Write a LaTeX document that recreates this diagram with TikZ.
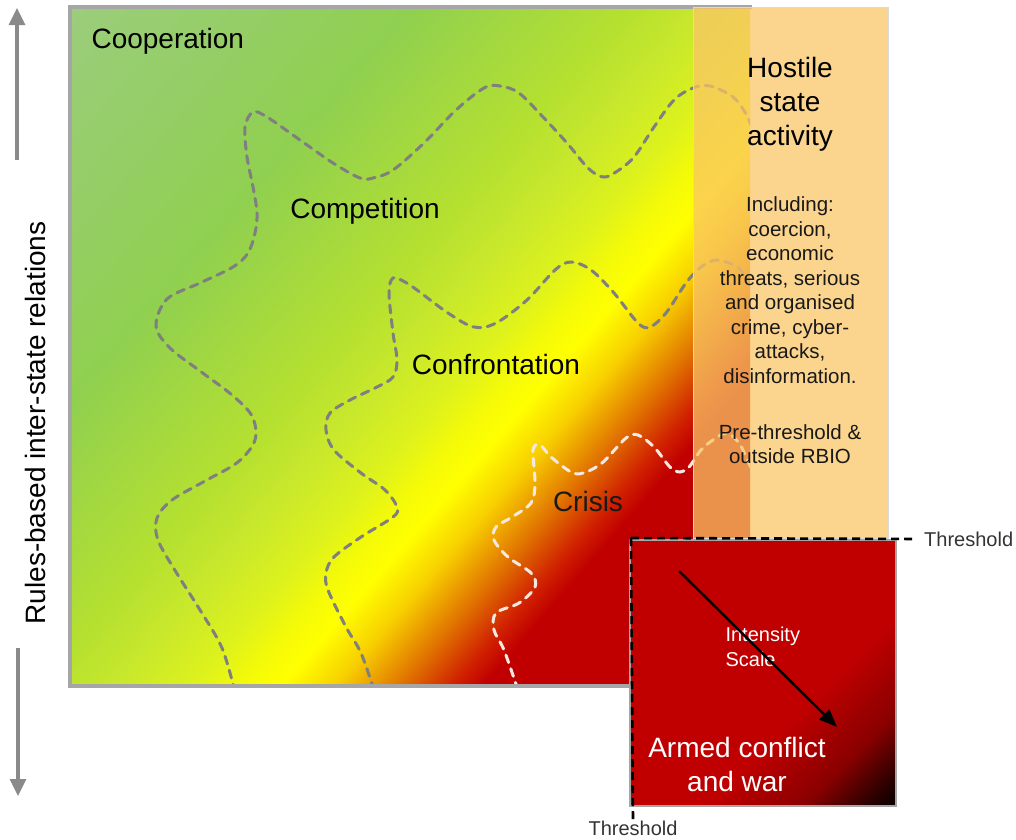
\documentclass[tikz,border=0pt]{standalone}
\usepackage{fontspec}
\setmainfont{Liberation Sans}
\usetikzlibrary{arrows.meta}
\usetikzlibrary{positioning}

\definecolor{frame}{HTML}{A6A6A6}
\definecolor{panel}{HTML}{FAC566}
\definecolor{zonegray}{HTML}{7F7F7F}
\definecolor{crisisline}{HTML}{F6E8E0}
\definecolor{axisgray}{HTML}{8A8A8A}
\definecolor{warred}{HTML}{C00000}
\definecolor{g1}{HTML}{9CCD7C}
\definecolor{g2}{HTML}{94CE64}
\definecolor{g3}{HTML}{90D050}
\definecolor{g4}{HTML}{B4E030}
\definecolor{g5}{HTML}{C8E82C}
\definecolor{g6}{HTML}{DEF21C}
\definecolor{g7}{HTML}{F4FA08}
\definecolor{g8}{HTML}{FFFF00}
\definecolor{g9}{HTML}{F8D000}
\definecolor{g10}{HTML}{E07000}
\definecolor{g11}{HTML}{D02000}
\definecolor{w1}{HTML}{8A0000}
\definecolor{w2}{HTML}{3A0000}
\definecolor{w3}{HTML}{000000}

\pgfdeclarehorizontalshading{relations}{100bp}{color(0bp)=(g1); color(25bp)=(g1); color(32.9bp)=(g2); color(38.5bp)=(g3); color(47bp)=(g4); color(50bp)=(g5); color(53.1bp)=(g6); color(54.9bp)=(g7); color(56.5bp)=(g8); color(58.6bp)=(g9); color(61.2bp)=(g10); color(63.2bp)=(g11); color(64.4bp)=(warred); color(100bp)=(warred)}
\pgfdeclarehorizontalshading{escalation}{100bp}{color(0bp)=(warred); color(57bp)=(warred); color(66bp)=(w1); color(71bp)=(w2); color(75bp)=(w3); color(100bp)=(w3)}

\begin{document}
\begin{tikzpicture}[x=1pt, y=-1pt,
    zone/.style={line width=3pt, dash pattern=on 8pt off 6.5pt, line cap=round},
    thresh/.style={line width=2.6pt, dash pattern=on 8pt off 5pt, black},
    axisarrow/.style={line width=3.2pt, axisgray, -{Triangle[length=17pt, width=16pt]}},
    zonelabel/.style={font=\fontsize{28}{34}\selectfont},
    paneltext/.style={font=\fontsize{20.5}{24.5}\selectfont, align=center, text=black!90},
    thrlabel/.style={font=\fontsize{20}{24}\selectfont, text=black!80, inner sep=0pt}]
    \useasboundingbox (0,0) rectangle (1016,839);

    \begin{scope}
        \clip (70,7) rectangle (750,686);
        \begin{scope}[transform canvas={shift={(410,346.5)}, rotate=-41}]
            \path[shading=relations] (-482,-482) rectangle (482,482);
        \end{scope}
        \draw[zone, zonegray] plot[smooth, tension=0.55] coordinates {(235,692) (222,648) (200,610) (176,572) (158,540) (157,518) (172,500) (205,481) (238,462) (255,440) (252,416) (232,395) (200,371) (170,348) (156,326) (167,299) (200,283) (233,267) (248,253) (255,233) (257,213) (253,187) (247,157) (245,127) (253,112) (267,117) (300,140) (333,163) (360,178) (373,178) (393,170) (424,143) (456,110) (484,88) (500,86) (519,93) (543,117) (567,143) (588,168) (603,177) (616,172) (634,157) (654,127) (674,100) (693,88) (710,86) (733,97) (746,114) (755,135)};
        \draw[zone, zonegray] plot[smooth, tension=0.55] coordinates {(374,690) (361,653) (346,627) (328,590) (326,573) (334,557) (361,537) (393,517) (397,507) (385,490) (361,473) (334,450) (326,430) (330,413) (350,400) (377,387) (393,377) (397,360) (393,333) (389,293) (393,278) (405,282) (417,290) (448,313) (474,327) (496,323) (527,300) (555,270) (571,262) (591,270) (614,293) (638,323) (650,327) (666,313) (686,283) (701,267) (717,260) (737,267) (746,278) (753,292)};
        \draw[zone, crisisline] plot[smooth, tension=0.55] coordinates {(518,690) (504,650) (494,630) (496,613) (519,603) (535,587) (531,573) (508,557) (494,540) (496,527) (512,517) (531,503) (535,483) (533,450) (540,445) (551,457) (571,472) (583,473) (602,463) (626,438) (638,435) (654,447) (670,467) (680,472) (689,467) (701,450) (713,440) (727,433) (739,443) (746,457) (752,470)};
    \end{scope}
    \draw[line width=4.5pt, frame] (752,7) -- (70,7) -- (70,686) -- (752,686);

    \draw[draw=black!15, line width=1pt, fill=panel, fill opacity=0.74] (693,7) rectangle (888,538);

    \begin{scope}
        \clip (630,540) rectangle (896,806);
        \begin{scope}[transform canvas={shift={(763,673)}, rotate=-45}]
            \path[shading=escalation] (-189,-189) rectangle (189,189);
        \end{scope}
    \end{scope}
    \draw[line width=2.5pt, frame] (630,540) rectangle (896,806);

    \node (coop) [zonelabel, anchor=west] at (88,41) {Cooperation};
    \node (comp) [zonelabel] at (365,211) {Competition};
    \node (conf) [zonelabel] at (496,364) {Confrontation};
    \node (crisis) [zonelabel, text=black!90] at (588,501) {Crisis};

    \node (hostile) [zonelabel, align=center] at (790,104) {Hostile\\state\\activity};
    \node (incl) [paneltext] at (790,290) {Including:\\coercion,\\economic\\threats, serious\\and organised\\crime, cyber-\\attacks,\\disinformation.};
    \node (pre) [paneltext, below=34pt of incl] {Pre-threshold \&\\outside RBIO};

    \node (scale) [font=\fontsize{20}{25}\selectfont, text=white, align=left, anchor=west] at (722,647) {Intensity\\Scale};
    \node (war) [zonelabel, text=white, align=center] at (737,764) {Armed conflict\\and war};

    \coordinate (intA) at (679,571);
    \coordinate (intB) at (837,727);
    \draw[line width=2.4pt, -{Triangle[length=18pt, width=14pt]}] (intA) -- (intB);

    \node (thrR) [thrlabel, anchor=west] at (924,539) {Threshold};
    \node (thrB) [thrlabel, anchor=north] at (633,821) {Threshold};
    \coordinate (thrC) at (631,538);
    \draw[thresh, shorten >=11pt] (thrC) -- (thrR.west);
    \draw[thresh, shorten >=2pt] (thrC) -- (thrB.north);

    \node (axis) [zonelabel, rotate=90] at (35,423) {Rules-based inter-state relations};
    \coordinate (upB) at (17,160);
    \coordinate (upT) at (17,8);
    \coordinate (downT) at (18,648);
    \coordinate (downB) at (18,796);
    \draw[axisarrow] (upB) -- (upT);
    \draw[axisarrow] (downT) -- (downB);
\end{tikzpicture}
\end{document}
